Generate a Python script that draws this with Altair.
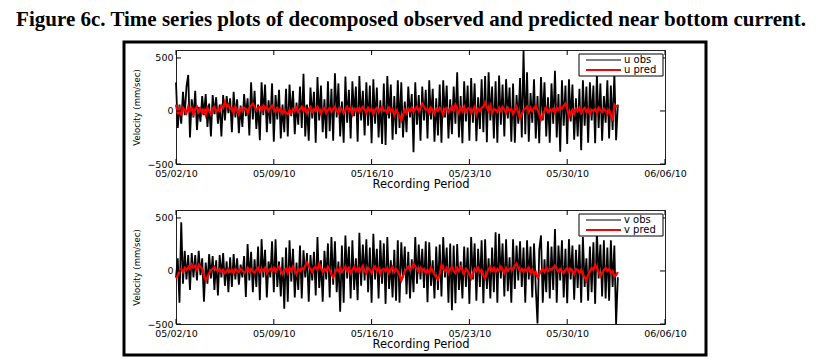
import altair as alt
import pandas as pd

# ---------------- data (3-hourly) ----------------
u_obs = [
    270, -160, 60, -120, 180, -40, 230, 340,
    -250, 110, -60, 190, -180, 40, -100, 140,
    -40, 160, -150, 70, -240, 150, -30, 130,
    -120, 60, -240, 150, -90, 140, -20, 120,
    -200, 180, -60, 110, -210, 50, -150, 160,
    -50, 120, -230, 270, -80, 190, -170, 60,
    -275, 270, -40, 250, -200, 100, -120, 260,
    -290, 150, -80, 200, -260, 60, -200, 210,
    -240, 250, -50, 190, -220, 80, -130, 230,
    -160, 350, -240, 60, -280, 220, -70, 180,
    -300, 320, -90, 240, -200, 110, -260, 280,
    -190, 210, -280, 355, -60, 260, -240, 90,
    -300, 325, -110, 200, -260, 280, -50, 230,
    -290, 330, -90, 190, -230, 270, -140, 240,
    -305, 300, -120, 220, -250, 100, -310, 260,
    -320, 330, -70, 250, -270, 140, -220, 290,
    -160, 270, -250, 90, -200, 230, -60, 160,
    -390, 270, -130, 150, -280, 230, -90, 200,
    -260, 290, -80, 210, -290, 120, -230, 250,
    -300, 290, -60, 240, -260, 110, -220, 230,
    -120, 365, -250, 140, -305, 280, -100, 240,
    -280, 310, -110, 260, -285, 130, -170, 300,
    -200, 330, -295, 365, -90, 230, -260, 280,
    -300, 335, -130, 250, -240, 300, -70, 220,
    -290, 260, -300, 150, -120, 310, -250, 575,
    -220, 365, -290, 170, -110, 300, -260, 140,
    -305, 320, -90, 270, -240, 130, -300, 260,
    -120, 380, -250, 160, -385, 290, -140, 240,
    -310, 300, -100, 250, -270, 120, -240, 210,
    -370, 290, -140, 230, -300, 270, -90, 240,
    -305, 350, -160, 260, -280, 140, -110, 290,
    -260, 240, -180, 365, -275, 60,
]
u_pred = [
    60, -30, 20, -40, 30, 10, -20, 40,
    0, 30, -30, 20, 40, -10, 20, -20,
    10, -40, 30, 0, -30, 20, 40, -10,
    20, 0, 50, 30, 85, 40, 60, 20,
    30, -20, 40, 10, -30, 20, 0, 30,
    20, -20, 30, 50, 70, 40, 10, 30,
    40, 0, 50, 20, 40, 0, 30, 50,
    20, -10, 30, 0, 20, -20, 10, -20,
    -30, 10, -20, 20, 0, 30, -10, 20,
    40, 0, 30, -20, 20, 40, -10, 20,
    0, 40, 10, -30, 20, 30, -20, 10,
    30, -10, 20, 40, 0, -20, 30, 10,
    -20, 10, 40, 0, 30, -30, 20, 0,
    30, -10, 20, 40, 10, -20, 30, 0,
    20, -30, 10, 30, -10, 20, 40, 0,
    10, -20, 30, 0, 20, -40, 10, -20,
    -50, -90, -40, 10, -20, 20, 0, 30,
    -10, 20, 40, 0, 30, 70, 40, 10,
    20, -20, 30, 10, -30, 20, 0, 30,
    10, -40, 20, 30, -10, 20, 40, 0,
    60, 20, -20, 30, 0, 40, -10, 20,
    30, -20, 10, 40, -30, 20, 0, 30,
    40, 80, 30, 0, 50, -20, 20, 10,
    -10, 30, 0, 40, 10, -20, 30, 0,
    20, -30, 10, 40, -20, -70, -30, 10,
    20, 40, -10, 30, 0, 20, 50, 10,
    -30, -80, -40, 0, 30, -10, 20, 0,
    20, -20, 30, 10, 40, 20, 50, 70,
    20, -60, -20, 10, -30, 20, 0, 30,
    -20, 10, 30, -10, 20, -30, 10, 0,
    20, -20, 30, 10, -10, 20, 0, -30,
    10, -40, -90, 60, 40, 50,
]
v_obs = [
    -60, 120, -300, 460, -120, 190, -80, 150,
    -180, 170, -60, 150, -90, 190, -40, 120,
    -290, 80, -120, 160, -70, 140, -180, 100,
    -230, 150, -60, 170, -140, 90, -200, 130,
    -150, 160, -80, 120, -130, 60, -60, 140,
    -245, 255, -90, 180, -200, 110, -150, 230,
    -275, 300, -60, 200, -250, 90, -60, 280,
    -200, 300, -150, 90, -240, 130, -355, 220,
    -290, 290, -100, 210, -250, 80, -180, 240,
    -260, 195, -60, 170, -290, 150, -90, 180,
    -230, 320, -160, 100, -290, 190, -80, 260,
    -250, 320, -130, 280, -200, 90, -385, 240,
    -300, 335, -70, 230, -260, 290, -180, 120,
    -275, 360, -140, 250, -90, 300, -200, 220,
    -300, 350, -80, 210, -260, 290, -120, 260,
    -310, 320, -170, 100, -250, 200, -280, 290,
    -300, 270, -60, 230, -220, 180, -260, 110,
    -200, 320, -120, 250, -80, 210, -160, 280,
    -295, 270, -140, 100, -260, 230, -180, 250,
    -240, 320, -60, 220, -300, 260, -370, 240,
    -305, 255, -180, 90, -260, 230, -150, 220,
    -310, 320, -80, 260, -280, 210, -150, 290,
    -305, 300, -170, 120, -260, 220, -200, 365,
    -300, 350, -70, 260, -240, 300, -190, 130,
    -300, 300, -170, 240, -90, 280, -150, 220,
    -300, 290, -80, 230, -250, 260, -160, -495,
    200, 335, -300, 110, -200, 280, -260, 230,
    -180, 395, -300, 240, -90, 290, -250, 210,
    -305, 300, -80, 240, -270, 200, -160, 250,
    -300, 320, -150, 120, -280, 230, -200, 270,
    -310, 380, -70, 250, -240, 290, -260, 220,
    -280, 290, -150, 240, -500, -60,
]
v_pred = [
    -70, -40, 0, 20, -10, 30, 10, 40,
    20, 60, 30, 50, 10, 60, 40, 20,
    -40, -90, -60, -20, 10, 20, 40, 10,
    0, 20, -10, 10, -20, 0, 20, -10,
    10, -20, 20, 0, -10, 20, 10, -20,
    0, 30, -10, 20, 0, -20, 10, 30,
    -10, 20, 0, 30, -20, 10, 20, 0,
    30, -10, 20, 40, 0, -30, 10, 20,
    -20, 30, 0, 40, 10, -30, 20, 0,
    30, 10, 50, 80, 40, 20, -10, 30,
    40, 10, 70, 30, -10, 20, 0, 40,
    10, -30, -60, -20, 20, 0, 30, -10,
    20, 40, 0, 30, -20, 10, 40, 0,
    30, -10, 20, 50, 0, -20, 30, 10,
    -20, 20, 40, 0, 30, -30, 10, 20,
    0, 30, -20, 20, 40, -10, 20, 0,
    -40, -90, -50, 0, 20, 40, 10, 30,
    70, 40, 20, -10, 30, 0, 20, -20,
    10, -20, 30, 0, -30, -60, -80, -30,
    60, 20, 0, 30, -20, 20, 40, 0,
    -20, 30, 0, 40, 10, -30, 20, 0,
    -30, -70, -20, 20, 0, 30, -10, 10,
    -40, -70, -20, 20, 40, 0, 30, -10,
    20, 0, 40, 10, -20, 30, 0, 20,
    30, 10, 50, 70, 30, 0, 20, -10,
    20, 0, 30, -20, 10, -30, -10, -60,
    -30, 0, 20, -10, 30, 0, 20, 10,
    30, 50, 20, -10, 20, 0, -20, 10,
    30, -10, 20, 0, -30, 20, 10, -20,
    10, -30, -60, -90, -40, 0, 30, 10,
    60, 30, -10, -50, -20, 10, 30, 0,
    20, -20, 0, -50, -40, -10,
]
start_time = "2010-05-02 00:00"
step = "3h"
tick_dates = ["2010-05-02", "2010-05-09", "2010-05-16", "2010-05-23", "2010-05-30", "2010-06-06"]
y_ticks = [-500, 0, 500]
y_domain = [-500, 575]
title_text = "Figure 6c. Time series plots of decomposed observed and predicted near bottom current."
y_title = "Velocity (mm/sec)"
x_title = "Recording Period"

# ---------------- layout ----------------
W, H = 489, 114
FONT = "DejaVu Sans"


def dt(s):
    y, m, d = map(int, s.split("-"))
    return alt.DateTime(year=y, month=m, date=d)


x_scale = alt.Scale(domain=[dt(tick_dates[0]), dt(tick_dates[-1])], nice=False)
y_scale = alt.Scale(domain=y_domain, nice=False, zero=False)

x_axis = alt.Axis(values=[dt(s) for s in tick_dates], format="%m/%d/%y", title=x_title,
                  tickSize=0, labelPadding=4, labelFlush=False, labelOverlap=False,
                  labelFont=FONT, labelFontSize=9.5, labelColor="black",
                  titleFont=FONT, titleFontSize=11.5, titleFontWeight="normal", titleColor="black",
                  titlePadding=1, domain=False, grid=False)
y_axis = alt.Axis(values=y_ticks, title=y_title, tickSize=0, labelPadding=3, labelOverlap=False,
                  labelFont=FONT, labelFontSize=9.5, labelColor="black",
                  titleFont=FONT, titleFontSize=8.5, titleFontWeight="normal", titleColor="black",
                  titlePadding=5, domain=False, grid=False)

one_row = alt.Data(values=[{"k": 0}])


def panel(obs, pred, lab_obs, lab_pred, extras):
    times = pd.date_range(start_time, periods=len(obs), freq=step)
    df = pd.DataFrame({"t": times, "obs": obs, "pred": pred})
    X = alt.X("t:T", scale=x_scale, axis=x_axis)
    obs_line = alt.Chart(df).mark_line(color="black", strokeWidth=1.8).encode(
        x=X, y=alt.Y("obs:Q", scale=y_scale, axis=y_axis))
    pred_line = alt.Chart(df).mark_line(color="#ff0000", strokeWidth=2.2).encode(
        x=X, y=alt.Y("pred:Q", scale=y_scale, axis=y_axis))

    tdf = pd.DataFrame({"t": pd.to_datetime(tick_dates)})
    ydf = pd.DataFrame({"v": y_ticks})
    Xt = alt.X("t:T", scale=x_scale, axis=x_axis)
    Yt = alt.Y("v:Q", scale=y_scale, axis=y_axis)
    tk = dict(color="black", strokeWidth=1)
    xt_top = alt.Chart(tdf).mark_rule(**tk).encode(x=Xt, y=alt.value(0), y2=alt.value(5))
    xt_bot = alt.Chart(tdf).mark_rule(**tk).encode(x=Xt, y=alt.value(H - 5), y2=alt.value(H))
    yt_l = alt.Chart(ydf).mark_rule(**tk).encode(y=Yt, x=alt.value(0), x2=alt.value(5))
    yt_r = alt.Chart(ydf).mark_rule(**tk).encode(y=Yt, x=alt.value(W - 5), x2=alt.value(W))

    leg_box = alt.Chart(one_row).mark_rect(fill="white", stroke="black", strokeWidth=1).encode(
        x=alt.value(403), x2=alt.value(487), y=alt.value(4), y2=alt.value(26))
    leg_l1 = alt.Chart(one_row).mark_rule(color="black", strokeWidth=1).encode(
        x=alt.value(410), x2=alt.value(445), y=alt.value(10))
    leg_l2 = alt.Chart(one_row).mark_rule(color="#ff0000", strokeWidth=2).encode(
        x=alt.value(410), x2=alt.value(445), y=alt.value(20))
    tx = dict(align="left", baseline="middle", font=FONT, fontSize=10, color="black")
    leg_t1 = alt.Chart(one_row).mark_text(**tx).encode(x=alt.value(448), y=alt.value(10), text=alt.value(lab_obs))
    leg_t2 = alt.Chart(one_row).mark_text(**tx).encode(x=alt.value(448), y=alt.value(20), text=alt.value(lab_pred))

    layers = [obs_line, pred_line, xt_top, xt_bot, yt_l, yt_r, leg_box, leg_l1, leg_l2, leg_t1, leg_t2]

    if extras:
        anchor = alt.Chart(one_row).mark_rect(opacity=0).encode(
            x=alt.value(-167), x2=alt.value(-160), y=alt.value(-41), y2=alt.value(-35))
        frame = alt.Chart(one_row).mark_rect(fill="transparent", stroke="black", strokeWidth=3).encode(
            x=alt.value(-52), x2=alt.value(530), y=alt.value(-8), y2=alt.value(305))
        title = alt.Chart(one_row).mark_text(align="center", baseline="top", font="Liberation Serif",
                                             fontSize=21, fontWeight="bold", color="black").encode(
            x=alt.value(235), y=alt.value(-41), text=alt.value(title_text))
        layers += [anchor, frame, title]

    return alt.layer(*layers).properties(width=W, height=H)


top = panel(u_obs, u_pred, "u obs", "u pred", True)
bottom = panel(v_obs, v_pred, "v obs", "v pred", False)

chart = alt.vconcat(top, bottom, spacing=46, bounds="flush").properties(
    padding=0, background="white"
).configure_view(stroke="#222222", strokeWidth=1)

chart.save("out.html", embed_options={"renderer": "svg", "actions": False})
